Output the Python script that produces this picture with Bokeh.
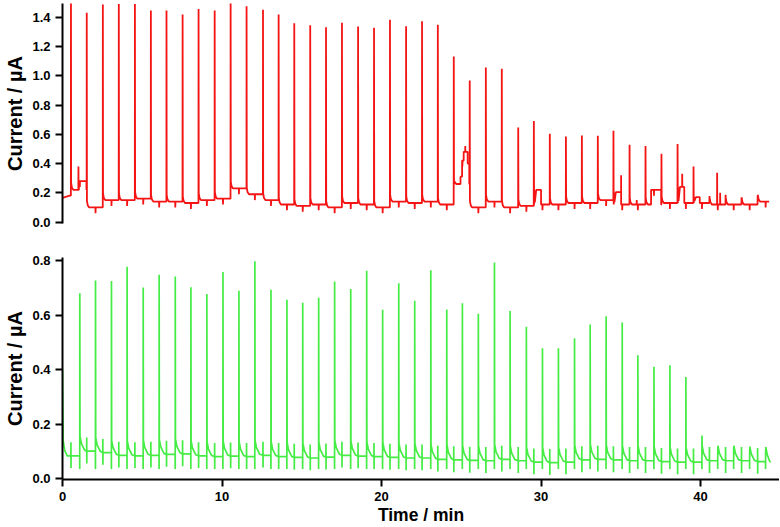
from bisect import bisect_right
from bokeh.plotting import figure
from bokeh.layouts import column
from bokeh.models import Range1d, FixedTicker, NumeralTickFormatter
from bokeh.embed import file_html
from bokeh.resources import INLINE

# ---------------- data ----------------
# top trace (red)
red_spike_t = [0.53, 1.52, 2.53, 3.53, 4.54, 5.54, 6.52, 7.53, 8.53, 9.54, 10.54, 11.54,
               12.57, 13.55, 14.53, 15.53, 16.52, 17.52, 18.53, 19.53, 20.53, 21.54, 22.54,
               23.53, 24.53, 25.53, 26.54, 27.54, 28.57, 29.55, 30.55, 31.56, 32.56, 33.56,
               34.54, 35.55, 36.55, 37.55, 38.56, 39.56, 40.56, 41.57, 42.57, 43.58]
red_spike_peak = [1.60, 1.43, 1.487, 1.49, 1.49, 1.446, 1.446, 1.419, 1.457, 1.446, 1.50, 1.475,
                  1.451, 1.419, 1.359, 1.346, 1.332, 1.362, 1.337, 1.328, 1.383, 1.339, 1.373,
                  1.348, 1.132, 0.968, 1.057, 1.048, 0.647, 0.690, 0.604, 0.585, 0.592, 0.590,
                  0.624, 0.529, 0.519, 0.467, 0.533, 0.380, 0.178, 0.187, 0.167, 0.178]
# baseline level before the first spike and after each spike
red_level = [0.18, 0.22, 0.10, 0.15, 0.15, 0.16, 0.14, 0.14, 0.13, 0.15, 0.16, 0.23, 0.19,
             0.15, 0.12, 0.11, 0.12, 0.10, 0.13, 0.12, 0.10, 0.14, 0.13, 0.14, 0.12, 0.26,
             0.10, 0.14, 0.10, 0.11, 0.12, 0.12, 0.13, 0.13, 0.15, 0.12, 0.12, 0.12, 0.13,
             0.13, 0.13, 0.12, 0.12, 0.12, 0.14]
red_plateau_start = [1.03, 24.55, 24.95, 25.05, 25.15, 25.40, 29.57, 34.56, 36.90, 38.58, 39.58]
red_plateau_end = [1.50, 24.95, 25.05, 25.15, 25.40, 25.50, 30.00, 35.02, 37.53, 38.98, 39.95]
red_plateau_val = [0.28, 0.26, 0.31, 0.42, 0.48, 0.40, 0.22, 0.205, 0.22, 0.24, 0.17]
red_extra_t = [1.00, 25.25, 35.02, 36.00, 38.85, 41.04, 41.23]
red_extra_peak = [0.38, 0.52, 0.32, 0.15, 0.33, 0.337, 0.20]
red_start_val = 0.165
red_end_t = 44.3

# bottom trace (green)
green_spike_t = [1.085, 2.07, 3.07, 4.05, 5.06, 6.06, 7.07, 8.05, 9.05, 10.06, 11.06, 12.06,
                 13.07, 14.07, 15.06, 16.06, 17.06, 18.07, 19.07, 20.07, 21.08, 22.08, 23.09,
                 24.09, 25.07, 26.07, 27.08, 28.06, 29.08, 30.09, 31.09, 32.10, 33.08, 34.08,
                 35.09, 36.07, 37.08, 38.08, 39.08, 40.09, 41.08, 42.08, 43.08, 44.08]
green_spike_peak = [0.681, 0.727, 0.726, 0.778, 0.702, 0.749, 0.742, 0.703, 0.678, 0.759, 0.690,
                    0.798, 0.693, 0.657, 0.646, 0.664, 0.724, 0.696, 0.763, 0.620, 0.717, 0.653,
                    0.765, 0.621, 0.644, 0.605, 0.794, 0.615, 0.557, 0.478, 0.478, 0.515, 0.566,
                    0.596, 0.573, 0.453, 0.410, 0.416, 0.373, 0.158, 0.109, 0.110, 0.100, 0.093]
green_level = [0.083, 0.100, 0.095, 0.085, 0.083, 0.085, 0.088, 0.090, 0.083, 0.080, 0.082,
               0.080, 0.085, 0.080, 0.077, 0.075, 0.078, 0.085, 0.082, 0.080, 0.077, 0.075,
               0.075, 0.070, 0.068, 0.066, 0.065, 0.070, 0.065, 0.060, 0.058, 0.060, 0.068,
               0.070, 0.068, 0.065, 0.065, 0.062, 0.060, 0.060, 0.065, 0.065, 0.065, 0.062, 0.060]
green_start_val = 0.40
green_end_t = 44.35

x_ticks = [0, 10, 20, 30, 40]
red_y_ticks = [0.0, 0.2, 0.4, 0.6, 0.8, 1.0, 1.2, 1.4]
green_y_ticks = [0.0, 0.2, 0.4, 0.6, 0.8]
y_title = "Current / µA"
x_title = "Time / min"


# ---------------- build the polylines from the values ----------------
def red_base(t):
    for a, b, v in zip(red_plateau_start, red_plateau_end, red_plateau_val):
        if a <= t <= b:
            return v
    return red_level[bisect_right(red_spike_t, t)]


def build_red():
    k = [(0.0, red_start_val), (0.45, red_base(0.45))]
    for t, pk in zip(red_spike_t, red_spike_peak):
        b0 = red_base(t - 0.006)
        b1 = red_base(t + 0.01)
        k += [(t - 0.006, b0), (t, pk), (t + 0.012, b1 + 0.045),
              (t + 0.06, b1 + 0.015), (t + 0.15, red_base(t + 0.15))]
    for a, b in zip(red_plateau_start, red_plateau_end):
        k += [(a - 0.002, red_base(a - 0.003)), (a, red_base(a)),
              (b, red_base(b)), (b + 0.002, red_base(b + 0.003))]
    for t, pk in zip(red_extra_t, red_extra_peak):
        k += [(t - 0.005, red_base(t - 0.005)), (t, pk), (t + 0.008, red_base(t + 0.008))]
    for g in green_spike_t:
        if g < red_end_t:
            b = red_base(g)
            k += [(g - 0.005, b), (g, b - 0.04), (g + 0.012, b)]
    k.append((red_end_t, red_base(red_end_t)))
    k.sort(key=lambda p: p[0])
    return [p[0] for p in k], [p[1] for p in k]


def green_base(t):
    return green_level[bisect_right(green_spike_t, t)]


def build_green():
    k = [(0.0, green_start_val), (0.04, 0.14), (0.15, 0.10), (0.3, green_base(0.3))]
    for t, pk in zip(green_spike_t, green_spike_peak):
        b0 = green_base(t - 0.01)
        b1 = green_base(t + 0.01)
        k += [(t - 0.008, b0), (t - 0.004, 0.035), (t, pk), (t + 0.012, b1 + 0.055),
              (t + 0.1, b1 + 0.028), (t + 0.3, b1 + 0.004)]
    for tt in red_spike_t:
        b = green_base(tt)
        k += [(tt - 0.005, b), (tt - 0.002, b + 0.05), (tt + 0.003, b - 0.045), (tt + 0.007, b)]
    k.append((green_end_t, green_base(green_end_t)))
    k.sort(key=lambda p: p[0])
    return [p[0] for p in k], [p[1] for p in k]


rx, ry = build_red()
gx, gy = build_green()

FONT = "Liberation Sans"


def style(p):
    p.grid.visible = False
    p.outline_line_color = None
    p.background_fill_color = "white"
    p.border_fill_color = "white"
    for ax in p.axis:
        ax.axis_line_color = "black"
        ax.axis_line_width = 2
        ax.major_tick_line_color = "black"
        ax.major_tick_line_width = 2
        ax.major_tick_out = 7
        ax.major_tick_in = 0
        ax.minor_tick_line_color = None
        ax.major_label_text_font = FONT
        ax.major_label_text_font_style = "bold"
        ax.major_label_text_font_size = "13px"
        ax.major_label_text_color = "black"
        ax.axis_label_text_font = FONT
        ax.axis_label_text_font_style = "bold"
        ax.axis_label_text_color = "black"


xr = Range1d(0, 44.95)

p1 = figure(width=779, height=240, x_range=xr, y_range=Range1d(-0.01, 1.494),
            output_backend="svg", toolbar_location=None,
            min_border_left=62, min_border_right=0, min_border_top=3, min_border_bottom=17)
p1.line(rx, ry, line_color="#f41414", line_width=1.8)
style(p1)
p1.xaxis.visible = False
p1.yaxis.ticker = FixedTicker(ticks=red_y_ticks)
p1.yaxis.formatter = NumeralTickFormatter(format="0.0")
p1.yaxis.axis_label = y_title
p1.yaxis.axis_label_text_font_size = "20px"
p1.yaxis.major_label_standoff = 5
p1.yaxis.axis_label_standoff = 3

p2 = figure(width=779, height=287, x_range=xr, y_range=Range1d(-0.004, 0.812),
            output_backend="svg", toolbar_location=None,
            min_border_left=62, min_border_right=0, min_border_top=17, min_border_bottom=40)
p2.line(gx, gy, line_color="#44ec44", line_width=1.7)
style(p2)
p2.xaxis.ticker = FixedTicker(ticks=x_ticks)
p2.yaxis.ticker = FixedTicker(ticks=green_y_ticks)
p2.yaxis.formatter = NumeralTickFormatter(format="0.0")
p2.yaxis.axis_label = y_title
p2.yaxis.axis_label_text_font_size = "20px"
p2.yaxis.major_label_standoff = 5
p2.yaxis.axis_label_standoff = 3
p2.xaxis.axis_label = x_title
p2.xaxis.axis_label_text_font_size = "17.5px"
p2.xaxis.major_label_standoff = 5
p2.xaxis.axis_label_standoff = 1

layout = column(p1, p2, spacing=0)

open("out.html", "w").write(file_html(layout, INLINE))
